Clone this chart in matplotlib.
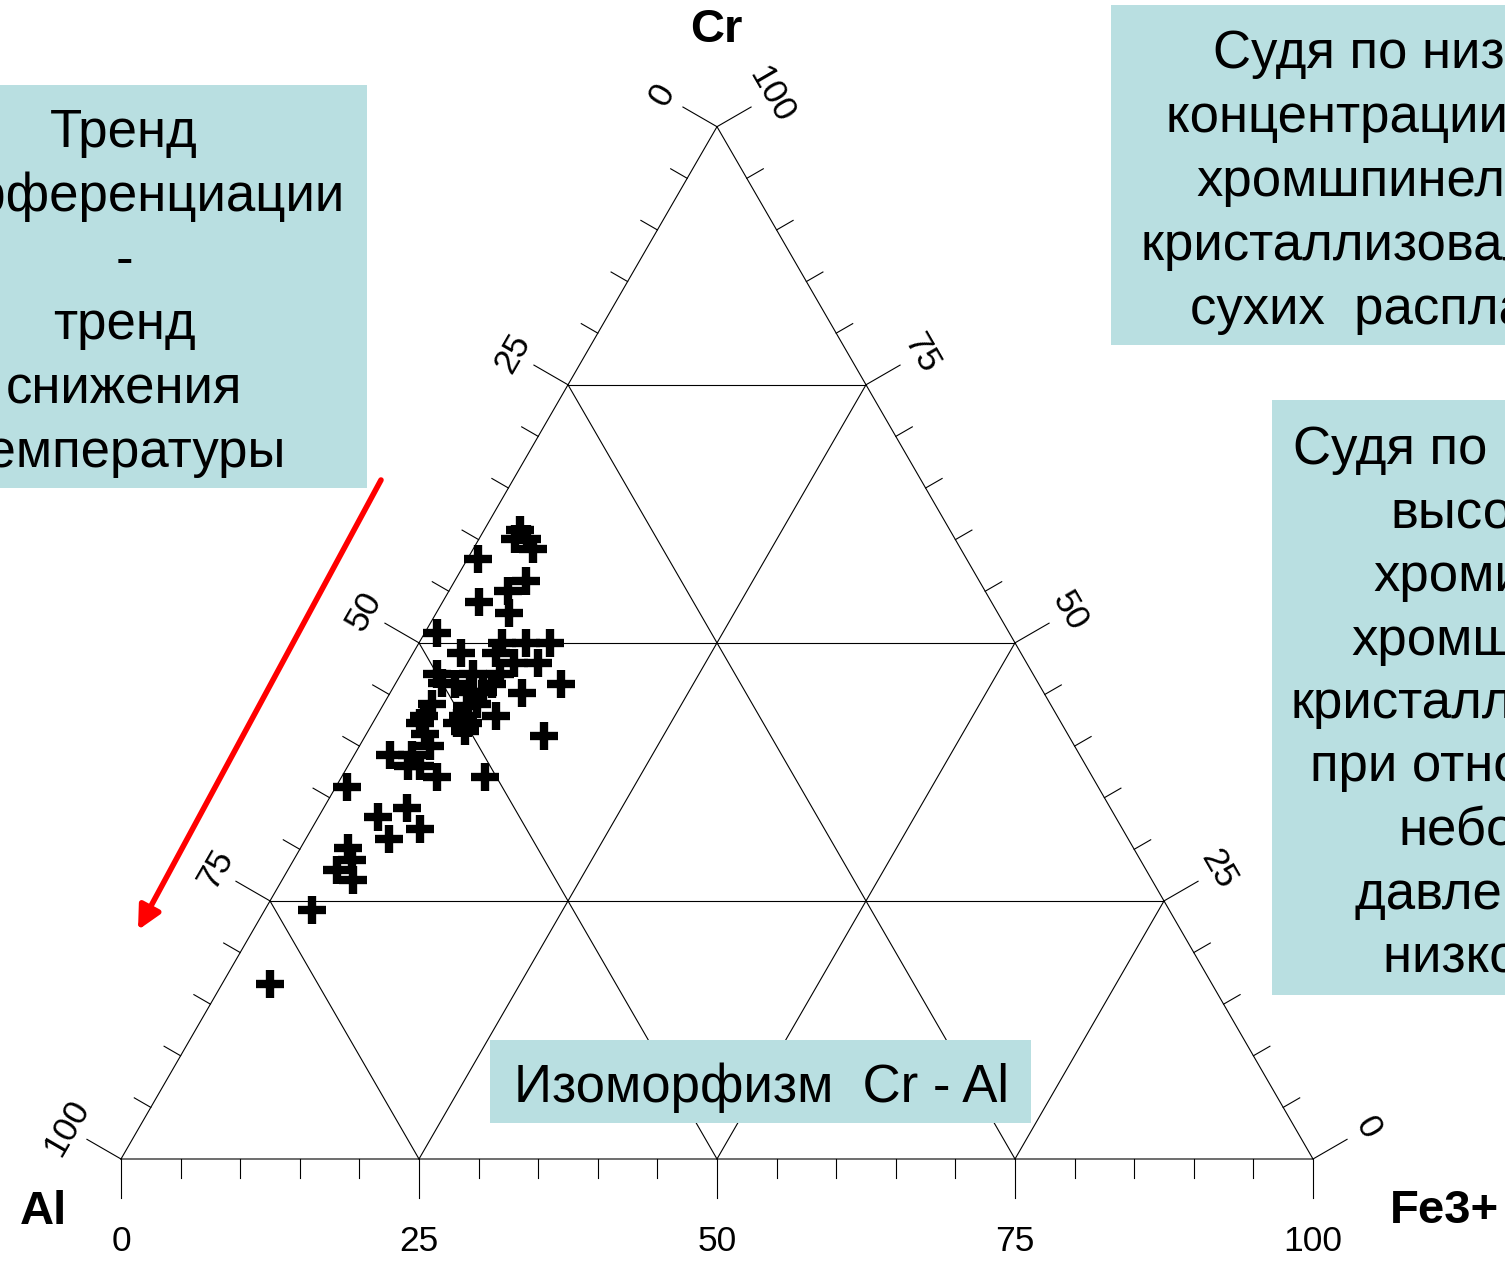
import numpy as np
import matplotlib.pyplot as plt
from matplotlib.patches import Rectangle

plt.rcParams['font.family'] = ['Liberation Sans', 'DejaVu Sans']

# chrome spinel compositions, % of trivalent cations
cr = [60.9, 60.1, 60.1, 59.1, 58.1, 56.0, 55.0, 54.0, 52.9, 51.0,
      50.0, 50.0, 50.0, 49.0, 49.0, 48.0, 48.0, 47.0, 47.0, 47.0,
      46.1, 46.0, 46.0, 46.0, 45.1, 45.2, 45.2, 44.1, 43.9, 44.1,
      42.9, 42.9, 42.9, 42.2, 42.2, 42.2, 41.2, 41.0, 40.0, 39.1,
      39.1, 38.1, 38.1, 37.0, 37.0, 36.0, 33.1, 34.0, 32.0, 31.0,
      30.1, 29.0, 28.0, 27.0, 24.1, 17.0, 41.5]
al = [36.1, 36.9, 35.9, 35.9, 41.0, 38.0, 40.0, 43.0, 41.0, 48.0,
      43.0, 41.0, 39.0, 47.0, 44.0, 43.0, 41.0, 50.0, 47.0, 44.7,
      50.0, 49.0, 40.1, 45.9, 43.8, 48.1, 47.0, 51.9, 49.0, 48.1,
      47.1, 49.9, 53.1, 50.7, 49.8, 53.8, 53.9, 44.0, 54.1, 57.9,
      56.0, 56.9, 55.9, 55.0, 51.0, 63.0, 61.9, 59.0, 58.9, 62.0,
      65.9, 66.1, 67.9, 67.0, 71.9, 79.0, 50.4]
fe3 = [3.0, 3.0, 4.0, 5.0, 0.9, 6.0, 5.0, 3.0, 6.1, 1.0,
       7.0, 9.0, 11.0, 4.0, 7.0, 9.0, 11.0, 3.0, 6.0, 8.3,
       3.9, 5.0, 13.9, 8.1, 11.1, 6.7, 7.8, 4.0, 7.1, 7.8,
       10.0, 7.2, 4.0, 7.1, 8.0, 4.0, 4.9, 15.0, 5.9, 3.0,
       4.9, 5.0, 6.0, 8.0, 12.0, 1.0, 5.0, 7.0, 9.1, 7.0,
       4.0, 4.9, 4.1, 6.0, 4.0, 4.0, 8.1]

grid_vals = [25, 50, 75]
tick_vals = list(range(0, 101, 5))
label_vals = [0, 25, 50, 75, 100]

box_color = '#b9dfe1'
H = np.sqrt(3) / 2


def tern(c, f):
    # Al at the origin, Fe3+ on the right, Cr at the apex
    return f + c / 2, c * H


W_PX, H_PX = 1505, 1265
S = 11.92          # pixels per percent
X0, Y0 = 121, 1159  # Al corner in pixels

fig = plt.figure(figsize=(W_PX / 100, H_PX / 100), dpi=100)
ax = fig.add_axes([0, 0, 1, 1])
ax.set_xlim(-X0 / S, (W_PX - X0) / S)
ax.set_ylim(-(H_PX - Y0) / S, Y0 / S)
ax.axis('off')

lw = 0.8
# outline
ox, oy = zip(tern(0, 0), tern(0, 100), tern(100, 0), tern(0, 0))
ax.plot(ox, oy, color='black', lw=lw)

# grid lines
for v in grid_vals:
    for a, b in [(tern(v, 0), tern(v, 100 - v)),
                 (tern(0, v), tern(100 - v, v)),
                 (tern(0, 100 - v), tern(100 - v, 0))]:
        ax.plot([a[0], b[0]], [a[1], b[1]], color='black', lw=lw)

# ticks on the three sides
n_left = np.array([-H, 0.5])
n_right = np.array([H, 0.5])
n_bottom = np.array([0, -1.0])
for v in tick_vals:
    ln = 3.3 if v % 25 == 0 else 1.6
    for p, n in [(tern(0, v), n_bottom),
                 (tern(100 - v, 0), n_left),
                 (tern(v, 100 - v), n_right)]:
        p = np.array(p)
        q = p + ln * n
        ax.plot([p[0], q[0]], [p[1], q[1]], color='black', lw=lw)

tick_fs = 25.5
for v in label_vals:
    bx, by = tern(0, v)
    ax.text(bx, -(1251 - Y0) / S, str(v), ha='center', va='baseline',
            fontsize=tick_fs)
    lp = np.array(tern(100 - v, 0)) + 5.3 * n_left
    ax.text(lp[0], lp[1], str(v), ha='center', va='center', rotation=60,
            rotation_mode='anchor', fontsize=tick_fs)
    rp = np.array(tern(v, 100 - v)) + 5.3 * n_right
    ax.text(rp[0], rp[1], str(v), ha='center', va='center', rotation=-60,
            rotation_mode='anchor', fontsize=tick_fs)

# analyses
tot = np.array(cr) + np.array(al) + np.array(fe3)
px, py = tern(np.array(cr) / tot * 100, np.array(fe3) / tot * 100)
ax.plot(px, py, ls='none', marker='+', ms=19.5, mew=6, color='black')

# annotation layer in pixel units
ov = fig.add_axes([0, 0, 1, 1])
ov.set_xlim(0, W_PX)
ov.set_ylim(H_PX, 0)
ov.axis('off')
ov.patch.set_alpha(0)

lab_fs = 34
ov.text(716, 42, 'Cr', ha='center', va='baseline', fontsize=lab_fs, fontweight='bold')
ov.text(43, 1224, 'Al', ha='center', va='baseline', fontsize=lab_fs, fontweight='bold')
ov.text(1444, 1223, 'Fe3+', ha='center', va='baseline', fontsize=lab_fs, fontweight='bold')

box_fs = 38
for (x, y, w, h) in [(-10, 85, 377, 403), (1111, 5, 420, 340),
                     (1272, 400, 260, 595), (490, 1040, 541, 83)]:
    ov.add_patch(Rectangle((x, y), w, h, facecolor=box_color, edgecolor='none'))

left_lines = ['Тренд', 'дифференциации', '-', 'тренд', 'снижения', 'температуры']
for i, s in enumerate(left_lines):
    ov.text(124, 147 + 64 * i, s, ha='center', va='baseline', fontsize=box_fs)

top_lines = ['Судя по низкой', 'концентрации Fe3+', 'хромшпинели',
             'кристаллизовались из', 'сухих  расплавов']
top_x = [1213, 1166, 1196, 1141, 1190]
for i, (s, x) in enumerate(zip(top_lines, top_x)):
    ov.text(x, 68 + 64 * i, s, ha='left', va='baseline', fontsize=box_fs)

right_lines = ['Судя по', 'высокой', 'хромистости', 'хромшпинели',
               'кристаллизовались', 'при относительно', 'небольшом',
               'давлении и', 'низкой температуре']
right_x = [1293, 1390, 1373, 1351, 1291, 1310, 1398, 1355, 1383]
for i, (s, x) in enumerate(zip(right_lines, right_x)):
    ov.text(x, 464 + 63.5 * i, s, ha='left', va='baseline', fontsize=box_fs)

ov.text(762, 1102, 'Изоморфизм  Cr - Al', ha='center', va='baseline', fontsize=box_fs)

ov.annotate('', xy=(138, 930), xytext=(381, 480),
            arrowprops=dict(arrowstyle='-|>', color='red', lw=4,
                            mutation_scale=35, shrinkA=0, shrinkB=0))

fig.savefig('out.png', dpi=100)
